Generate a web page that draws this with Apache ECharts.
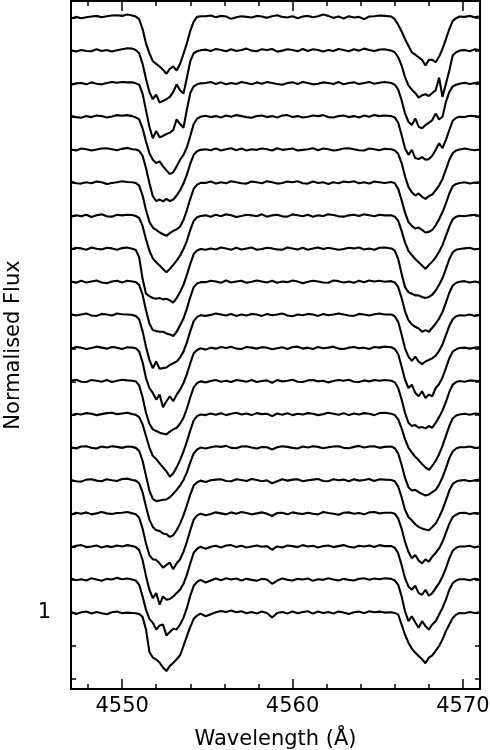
<!DOCTYPE html>
<html>
<head>
<meta charset="utf-8">
<script src="https://cdn.jsdelivr.net/npm/echarts@6/dist/echarts.min.js"></script>
<style>
html, body { margin: 0; padding: 0; background: #fff; }
#chart { width: 490px; height: 750px; }
</style>
</head>
<body>
<div id="chart"></div>
<script>
// wavelength grid (Angstrom): left continuum, line 4552, middle continuum, line 4567, right continuum
var wave = [4547.0, 4547.3, 4547.6, 4547.9, 4548.2, 4548.5, 4548.8, 4549.1, 4549.4, 4549.7, 4550.0, 4550.3,
    4550.6, 4550.8, 4551.0, 4551.2, 4551.4, 4551.6, 4551.8, 4552.0, 4552.2, 4552.4, 4552.6, 4552.8, 4553.0, 4553.2, 4553.4, 4553.6, 4553.8, 4554.0, 4554.2, 4554.4, 4554.6,
    4554.9, 4555.2, 4555.5, 4555.8, 4556.1, 4556.4, 4556.7, 4557.0, 4557.3, 4557.6, 4557.9, 4558.2, 4558.5, 4558.8, 4559.1, 4559.4, 4559.7, 4560.0,
    4560.3, 4560.6, 4560.9, 4561.2, 4561.5, 4561.8, 4562.1, 4562.4, 4562.7, 4563.0, 4563.3, 4563.6, 4563.9, 4564.2, 4564.5, 4564.8, 4565.1, 4565.4,
    4565.8, 4566.0, 4566.2, 4566.4, 4566.6, 4566.8, 4567.0, 4567.2, 4567.4, 4567.6, 4567.8, 4568.0, 4568.2, 4568.4, 4568.6, 4568.8, 4569.0, 4569.2, 4569.4, 4569.6, 4569.8,
    4570.1, 4570.4, 4570.7, 4571.0];

// vertical shift of each spectrum (bottom one first)
var offsets = [0, 0.1, 0.2, 0.3, 0.4, 0.5, 0.6, 0.7, 0.8, 0.9, 1.0, 1.1, 1.2, 1.3, 1.4, 1.5, 1.6, 1.7, 1.8];

// normalised flux of each spectrum, as (flux - 1) in thousandths
var s0 = [3, -3, 2, 4, -2, 3, -1, -4, 2, 4, -1, 1,
    0, -1, -3, -12, -50, -118, -135, -141, -150, -165, -176, -160, -151, -140, -128, -100, -70, -42, -18, -8, -2,
    -10, -4, 2, 6, 3, 7, 2, 5, -1, 3, -2, 4, 0, -14, 0, 3, -2, 4, -1, 3, 5, -2, 4, 0, 3, -2, 4, 1, -3, 2, 4, -1, 5, 2, 4, 1,
    2, 0, -5, -35, -66, -90, -108, -120, -130, -140, -152, -135, -128, -115, -100, -80, -55, -35, -15, -5, 0,
    -1, 3, 0, 2];
var s1 = [4, -1, 2, -2, 5, 1, -3, 3, 1, 6, 2, 4,
    1, -2, -15, -50, -90, -118, -130, -150, -138, -135, -168, -158, -148, -150, -135, -115, -85, -48, -18, -6, 0,
    -8, -2, 4, -1, 5, 1, 4, -2, 3, 0, -3, 3, 1, -12, -2, 4, 0, -2, 3, 1, 4, -3, 2, 0, 5, 1, -2, 3, 0, -2, 3, 5, 0, 4, 2, 5,
    3, -2, -15, -50, -95, -125, -110, -128, -145, -125, -140, -150, -135, -125, -105, -85, -60, -30, -10, -2, 2,
    2, -1, 3, 0];
var s2 = [-2, 3, 5, -1, 1, 4, -2, 2, -1, 4, 1, 5,
    2, -1, -10, -40, -88, -130, -155, -140, -175, -150, -160, -158, -150, -140, -130, -112, -85, -50, -18, -6, 0,
    -6, 0, 3, -2, 4, 5, -1, 3, -2, 1, 4, 0, 2, -9, 1, -2, 4, 2, -1, 5, 1, 3, -2, 2, 4, -1, 2, 5, 0, -2, 3, 1, 4, -1, 5, 2,
    2, -3, -20, -55, -95, -120, -130, -118, -140, -145, -130, -148, -140, -125, -110, -90, -65, -35, -12, -3, 1,
    1, 3, -2, 2];
var s3 = [-3, 3, 0, 4, -2, 1, 5, 1, -1, 2, 3, 5,
    1, -2, -12, -45, -90, -125, -138, -140, -150, -163, -155, -148, -168, -150, -138, -115, -85, -50, -18, -5, 0,
    -5, -1, 4, 1, -2, 4, 0, 5, 2, -2, 1, 4, 0, -7, 2, 3, -2, 4, 1, -1, 3, 0, -2, 5, 2, 0, -3, 3, 4, 0, 2, -2, 4, 5, 1, 3,
    3, 0, -15, -45, -85, -115, -135, -125, -142, -150, -138, -145, -130, -118, -105, -85, -58, -30, -10, -3, 2,
    3, -1, 2, 1];
var s4 = [2, -2, -3, 3, 4, 0, -2, 4, 1, -1, 5, 6,
    2, 0, -8, -35, -78, -118, -140, -150, -152, -160, -162, -170, -165, -150, -130, -105, -75, -42, -15, -5, 0,
    -4, 1, 3, 4, -1, -2, 4, 2, -1, 5, 2, -2, 1, -8, -2, 4, 0, 3, 4, -2, 1, 3, 5, -1, -2, 4, 1, 3, -2, 4, 0, 2, 5, -1, 4, 3,
    2, -2, -18, -50, -88, -110, -120, -132, -140, -145, -148, -150, -140, -130, -110, -88, -60, -30, -10, -3, 0,
    2, -2, 1, 3];
var s5 = [1, -3, 3, 4, -1, -3, 3, 0, 4, 2, -1, 3,
    2, -1, -10, -40, -85, -130, -155, -162, -160, -158, -157, -150, -140, -128, -115, -98, -75, -45, -18, -6, 0,
    -3, 1, 4, 2, 5, -1, -2, 3, 4, 0, -3, 2, 1, -6, 1, 4, 2, -1, -3, 3, 0, 4, 2, -2, 1, 3, 4, -1, -2, 2, 5, 0, 3, 4, -1, 2,
    3, -2, -18, -52, -92, -120, -130, -128, -135, -140, -145, -142, -135, -128, -112, -90, -62, -32, -12, -3, 1,
    1, 3, -1, 0];
var s6 = [-3, 2, 0, 4, 2, -2, 1, 4, 5, 1, 3, 5,
    1, -1, -8, -30, -65, -100, -125, -135, -148, -160, -172, -188, -178, -160, -138, -112, -82, -48, -18, -5, 0,
    -2, 3, -1, 4, -2, 2, 5, 0, 3, -2, 4, 1, 2, -5, 3, -1, 4, -2, 2, 0, 4, 2, -2, 1, 5, 2, -1, 4, -2, 3, 0, 4, 2, -2, 4, 5,
    2, -2, -15, -42, -75, -100, -115, -128, -138, -150, -160, -168, -155, -140, -120, -95, -65, -35, -12, -3, 0,
    2, -1, 3, 1];
var s7 = [2, 5, -1, -2, 4, 2, -1, 4, -2, 2, 5, 3,
    2, 0, -12, -48, -95, -128, -145, -150, -155, -158, -160, -152, -145, -140, -128, -110, -82, -48, -18, -5, 0,
    -3, 1, 4, -1, 2, -2, 4, 2, -1, 4, -2, 1, 3, -4, 4, 0, 2, 5, -1, -2, 3, 4, 0, 2, -3, 1, 4, 2, 5, -1, -2, 3, 0, 4, 2, 4,
    2, -3, -20, -55, -95, -125, -135, -132, -140, -138, -142, -135, -140, -125, -108, -88, -62, -32, -10, -2, 1,
    -1, 3, 2, 1];
var s8 = [-1, 4, 2, -2, 1, 5, 2, -1, 4, 2, -2, 3,
    2, 0, -10, -42, -90, -120, -135, -155, -140, -178, -160, -145, -160, -140, -125, -105, -78, -45, -15, -5, 0,
    -4, 2, -1, 4, 1, 5, -1, -2, 4, 2, -1, 3, 2, -3, 0, 3, -2, 4, 5, -1, 2, -2, 4, 0, 2, 5, -1, -2, 2, 4, 0, 2, -2, 4, 2, 5,
    3, -2, -18, -55, -95, -120, -110, -135, -145, -130, -150, -140, -145, -120, -108, -88, -60, -30, -10, -3, 1,
    2, -1, 2, 3];
var s9 = [3, -1, 2, 5, -1, -2, 4, 2, -1, 5, 3, 2,
    1, -2, -12, -48, -95, -135, -160, -140, -162, -160, -158, -150, -145, -140, -128, -110, -82, -48, -18, -5, 0,
    -2, 1, 5, 2, -1, 4, -2, 2, -1, 4, 2, -2, 4, 0, 2, 5, -1, -3, 2, 0, 4, 2, -2, 4, 0, 2, 5, 2, -1, -2, 4, 2, -1, 3, 5, 2,
    2, -3, -20, -58, -100, -125, -138, -125, -140, -148, -140, -135, -130, -122, -108, -88, -60, -32, -12, -3, 0,
    -1, 2, -2, 1];
var s10 = [2, -2, 4, -1, 2, 5, -1, -3, 2, 4, -1, 4,
    2, 0, -8, -38, -85, -125, -145, -148, -150, -150, -155, -158, -163, -150, -130, -110, -80, -45, -15, -4, 0,
    0, 4, 2, -2, 5, -1, 2, 4, -2, 1, 5, 2, -1, 4, -2, 2, 0, 5, 2, -3, 1, 4, 2, -1, -2, 5, 3, -1, 2, -2, 4, 0, 5, 2, 4, 1,
    3, -1, -15, -48, -88, -115, -128, -135, -140, -150, -145, -150, -138, -125, -110, -90, -62, -32, -10, -2, 1,
    3, -1, 2, -2];
var s11 = [-1, 4, 2, -2, 5, 1, -1, 4, 2, -2, 3, 5,
    1, -3, -25, -90, -135, -142, -148, -150, -148, -152, -150, -155, -162, -148, -130, -108, -78, -45, -15, -4, 0,
    -2, 2, -1, 5, 2, -2, 4, -1, 2, 5, -2, 0, 4, 2, -1, -2, 5, 2, -1, 4, -2, 2, 5, 0, 4, 1, -2, 0, 4, 2, 5, -1, 2, -2, 4, 5,
    2, -5, -30, -75, -115, -130, -135, -140, -140, -145, -148, -145, -138, -125, -108, -88, -60, -30, -10, -2, 0,
    2, 4, -1, 2];
var s12 = [-2, 2, -1, 4, -3, 2, 5, -1, -2, 4, 2, 4,
    3, 0, -6, -30, -70, -105, -128, -140, -150, -160, -170, -160, -148, -135, -120, -100, -75, -42, -15, -4, 0,
    2, -2, 4, -1, 5, 2, -3, 0, 4, 2, -1, 5, -2, 2, 4, -1, -2, 5, 2, -1, 4, -2, 2, 0, 5, 3, -1, -2, 2, 4, 0, 5, 2, -1, 4, 2,
    2, -2, -15, -45, -80, -105, -118, -130, -140, -150, -160, -148, -138, -125, -108, -88, -60, -32, -10, -2, 1,
    -1, 2, 4, 0];
var s13 = [4, -1, -2, 2, -1, 4, 2, -3, 0, 2, 5, 3,
    2, 0, -8, -38, -82, -118, -135, -142, -150, -155, -160, -152, -145, -140, -132, -112, -82, -48, -18, -5, 0,
    0, 4, -2, 2, -1, 5, 2, -1, -2, 4, 2, -1, 5, 2, -2, 0, 4, 2, 5, -1, -2, 4, 0, 2, -3, 2, -1, 4, 2, 5, -1, 2, -2, 4, 2, 0,
    3, -1, -18, -52, -90, -118, -130, -138, -135, -142, -150, -148, -142, -128, -110, -88, -62, -32, -10, -3, 0,
    2, -2, 1, 2];
var s14 = [1, -2, 4, 2, -2, 1, 4, 5, 2, -1, 3, 6,
    2, 1, -3, -18, -55, -100, -140, -155, -150, -156, -148, -155, -150, -138, -122, -102, -75, -42, -15, -4, 0,
    2, -1, 4, -2, 2, 5, -1, 4, -2, 2, 0, 4, 2, -2, 5, 0, 2, 4, -2, 0, 2, 5, -1, 4, 2, -2, 0, 4, 5, 2, -1, -2, 4, 2, -1, 3,
    2, -2, -12, -40, -80, -112, -128, -138, -132, -142, -148, -140, -135, -122, -108, -88, -60, -30, -10, -2, 1,
    4, 1, -1, 2];
var s15 = [2, -1, -3, 2, -1, 4, 2, -2, 1, 5, 3, 5,
    2, -2, -8, -35, -75, -110, -130, -140, -135, -150, -162, -173, -168, -150, -130, -115, -92, -58, -22, -6, 0,
    3, -1, 2, -2, 4, 0, 5, 2, -1, -3, 2, 4, -1, 2, -2, 4, 5, -1, 2, -2, 0, 4, 2, 5, -1, -2, 2, 4, -1, 2, -2, 4, 0, 5, 2, 4,
    2, -2, -18, -55, -95, -115, -100, -125, -128, -122, -130, -128, -118, -100, -80, -95, -70, -40, -12, -3, 0,
    -1, 3, 2, 0];
var s16 = [-3, 1, 2, -2, 4, 0, -2, 2, 5, 3, 5, 4,
    4, 1, -3, -30, -80, -130, -165, -143, -162, -158, -152, -148, -140, -108, -122, -133, -78, -28, -8, -2, 1,
    2, 5, -1, 4, -2, 2, -1, 5, 2, -2, 4, 0, 5, 2, -1, -3, 2, 4, -1, 5, 2, -2, 0, 4, 2, -1, 5, -2, 2, 4, -1, 2, 5, 0, 3, 5,
    2, -3, -18, -50, -90, -115, -125, -105, -130, -135, -125, -118, -110, -90, -108, -100, -55, -25, -8, -3, 0,
    3, -1, 2, 4];
var s17 = [1, -3, 2, -1, -2, 4, -1, 2, -3, 1, 4, 7,
    6, 2, -8, -40, -85, -125, -147, -133, -157, -152, -147, -140, -125, -102, -120, -130, -82, -32, -8, -2, 1,
    3, -1, 5, 2, -2, 4, -1, 2, 6, 0, -2, 4, 2, 5, -3, 0, 4, 2, -2, 5, -1, 4, 2, -3, 2, -1, 5, 2, -2, 4, 0, 6, 2, -1, 3, 4,
    0, -5, -20, -45, -80, -105, -118, -128, -142, -135, -132, -137, -128, -120, -82, -140, -100, -60, -14, -5, 0,
    2, -2, 4, 1];
var s18 = [-3, 2, -2, 1, 3, 5, 1, 4, 6, 7, 5, 9,
    6, 3, -5, -35, -78, -108, -132, -140, -148, -158, -170, -155, -148, -160, -140, -110, -78, -40, -12, 2, 4,
    4, 6, 1, 5, 3, -4, 1, 4, 2, 0, 5, 3, -1, 4, 7, 2, 0, 4, -2, 3, 5, 1, 4, 9, 5, -1, 3, -3, 4, 0, 2, -5, 3, 4, 6, 5,
    3, -5, -22, -42, -65, -85, -105, -112, -120, -128, -145, -128, -128, -135, -118, -95, -65, -35, -10, -2, 3,
    2, 5, 1, 4];

var xMajorTicks = [4550, 4560, 4570];
var xMinorTicks = [4548, 4552, 4554, 4556, 4558, 4562, 4564, 4566, 4568];
var yTicks = [0.8, 0.9, 1.0, 1.1, 1.2, 1.3, 1.4, 1.5, 1.6, 1.7, 1.8, 1.9, 2.0, 2.1, 2.2, 2.3, 2.4, 2.5, 2.6, 2.7, 2.8];
var yLabels = [1];

var spectra = [s0, s1, s2, s3, s4, s5, s6, s7, s8, s9, s10, s11, s12, s13, s14, s15, s16, s17, s18];

var chart = echarts.init(document.getElementById('chart'));
var font = 'DejaVu Sans';
var frame = { show: true, onZero: false, lineStyle: { color: '#000', width: 2 } };
var plain = function (v) { return String(v); };

function xAxisDef(pos, ticks, len, withLabels) {
    return {
        type: 'value', position: pos, min: 4547, max: 4571,
        axisLine: frame,
        axisTick: { show: true, inside: true, length: len, customValues: ticks,
                    lineStyle: { color: '#000', width: 1.5 } },
        axisLabel: withLabels ? { show: true, customValues: xMajorTicks, formatter: plain, color: '#000',
                                  fontFamily: font, fontSize: 21, margin: 7 } : { show: false },
        splitLine: { show: false }
    };
}

var xAxes = [
    xAxisDef('bottom', xMinorTicks, 5, true),
    xAxisDef('bottom', xMajorTicks, 10, false),
    xAxisDef('top', xMinorTicks, 5, false),
    xAxisDef('top', xMajorTicks, 10, false)
];
xAxes[0].name = 'Wavelength (Å)';
xAxes[0].nameLocation = 'middle';
xAxes[0].nameGap = 40;
xAxes[0].nameTextStyle = { color: '#000', fontFamily: font, fontSize: 21 };

function yAxisDef(pos, withLabels) {
    return {
        type: 'value', position: pos, min: 0.77, max: 2.85,
        axisLine: frame,
        axisTick: { show: true, inside: true, length: 5, customValues: yTicks,
                    lineStyle: { color: '#000', width: 1.5 } },
        axisLabel: withLabels ? { show: true, customValues: yLabels, formatter: plain, color: '#000',
                                  fontFamily: font, fontSize: 21, margin: 20 } : { show: false },
        splitLine: { show: false }
    };
}
var yAxes = [yAxisDef('left', true), yAxisDef('right', false)];
yAxes[0].name = 'Normalised Flux';
yAxes[0].nameLocation = 'middle';
yAxes[0].nameRotate = 90;
yAxes[0].nameGap = 47;
yAxes[0].nameTextStyle = { color: '#000', fontFamily: font, fontSize: 21 };

var series = spectra.map(function (s, i) {
    if (s.length !== wave.length) {
        throw new Error('spectrum ' + i + ' has ' + s.length + ' points, expected ' + wave.length);
    }
    return {
        type: 'line',
        xAxisIndex: 0,
        yAxisIndex: 0,
        symbol: 'none',
        silent: true,
        lineStyle: { color: '#000', width: 2.1 },
        data: wave.map(function (w, k) { return [w, 1 + offsets[i] + s[k] / 1000]; })
    };
});

chart.setOption({
    animation: false,
    backgroundColor: '#fff',
    grid: { left: 71, right: 10, top: 1, bottom: 61, containLabel: false, outerBoundsMode: 'none' },
    xAxis: xAxes,
    yAxis: yAxes,
    series: series
});

window.addEventListener('resize', function () {
    chart.resize();
});
</script>
</body>
</html>
